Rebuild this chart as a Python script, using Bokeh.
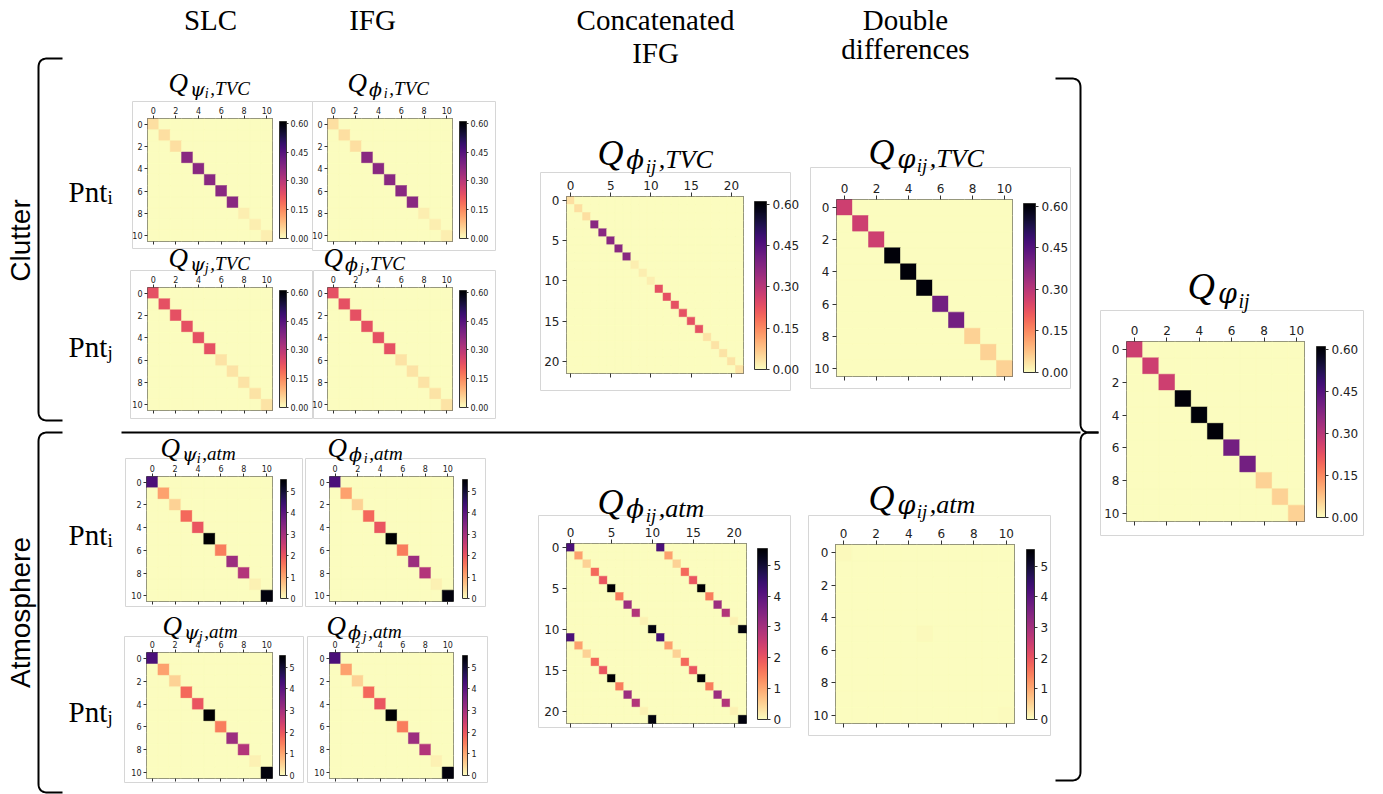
import numpy as np
from bokeh.plotting import figure
from bokeh.models import (ColumnDataSource, Range1d, LinearAxis, FixedTicker, ColorBar,
                          LinearColorMapper, PrintfTickFormatter, GridBox)
from bokeh.palettes import Magma256
from bokeh.transform import transform
from bokeh.core.properties import value
from bokeh.embed import file_html
from bokeh.resources import INLINE

PAGE_W, PAGE_H = 1383, 794

# ---------------- data (diagonal variances) ----------------
tvc_psi_i = [0.04, 0.04, 0.04, 0.37, 0.37, 0.37, 0.37, 0.37, 0.02, 0.02, 0.02]
tvc_phi_i = [0.04, 0.04, 0.04, 0.37, 0.37, 0.37, 0.37, 0.37, 0.02, 0.02, 0.02]
tvc_psi_j = [0.23, 0.23, 0.23, 0.23, 0.23, 0.23, 0.035, 0.035, 0.035, 0.035, 0.035]
tvc_phi_j = [0.23, 0.23, 0.23, 0.23, 0.23, 0.23, 0.035, 0.035, 0.035, 0.035, 0.035]
tvc_concat_diag = [0.04, 0.04, 0.04, 0.37, 0.37, 0.37, 0.37, 0.37, 0.02, 0.02, 0.02,
                   0.23, 0.23, 0.23, 0.23, 0.23, 0.23, 0.035, 0.035, 0.035, 0.035, 0.035]
tvc_dd_diag = [0.27, 0.27, 0.27, 0.60, 0.60, 0.60, 0.405, 0.405, 0.055, 0.055, 0.055]
final_diag = [0.27, 0.27, 0.27, 0.60, 0.60, 0.60, 0.405, 0.405, 0.055, 0.055, 0.055]

atm_psi_i = [4.2, 1.1, 0.5, 1.75, 2.0, 5.54, 1.5, 3.1, 2.8, 0.15, 5.4]
atm_phi_i = [4.2, 1.1, 0.5, 1.75, 2.0, 5.54, 1.5, 3.1, 2.8, 0.15, 5.4]
atm_psi_j = [4.2, 1.1, 0.5, 1.75, 2.0, 5.54, 1.5, 3.1, 2.8, 0.15, 5.4]
atm_phi_j = [4.2, 1.1, 0.5, 1.75, 2.0, 5.54, 1.5, 3.1, 2.8, 0.15, 5.4]
atm_concat_diag = [4.2, 1.1, 0.5, 1.75, 2.0, 5.54, 1.5, 3.1, 2.8, 0.15, 5.4,
                   4.2, 1.1, 0.5, 1.75, 2.0, 5.54, 1.5, 3.1, 2.8, 0.15, 5.4]
atm_concat_cross = [4.2, 1.1, 0.5, 1.75, 2.0, 5.54, 1.5, 3.1, 2.8, 0.15, 5.4]
atm_dd_diag = [0.06, 0.0, 0.0, 0.0, 0.0, 0.05, 0.0, 0.0, 0.0, 0.0, 0.04]

tvc_max = 0.61
atm_max = 5.54
tvc_cb_ticks = [0.0, 0.15, 0.30, 0.45, 0.60]
atm_cb_ticks = [0, 1, 2, 3, 4, 5]

headers = ["SLC", "IFG", "Concatenated", "IFG", "Double", "differences"]
side_labels = ["Clutter", "Atmosphere"]

PAL = list(Magma256[::-1])
ZERO = PAL[0]
DY = -9  # baseline correction for alphabetic text


def cross_matrix(diag, cross):
    m = np.diag(np.array(diag, dtype=float))
    k = len(cross)
    m = m + np.diag(np.array(cross, dtype=float), k) + np.diag(np.array(cross, dtype=float), -k)
    return m


# ---------------- background (texts, brackets, boxes) ----------------
bg = figure(width=PAGE_W, height=PAGE_H, x_range=Range1d(0, PAGE_W), y_range=Range1d(PAGE_H, 0),
            toolbar_location=None, output_backend="svg", min_border=0,
            x_axis_location=None, y_axis_location=None, outline_line_color=None,
            background_fill_color="white", border_fill_color="white")
bg.grid.visible = False
bg.title.visible = False

SERIF = value("Liberation Serif")
GREEK = value("DejaVu Serif")

boxes = dict(left=[132, 312, 130, 313, 125, 305, 124, 307, 540, 810, 1100, 538, 808],
             right=[312, 495, 312, 495, 302, 485, 303, 487, 790, 1070, 1363, 790, 1050],
             top=[101, 101, 270, 270, 458, 458, 636, 636, 172, 167, 310, 515, 515],
             bottom=[248, 250, 418, 418, 606, 606, 782, 782, 390, 388, 535, 727, 735])
bg.quad(left="left", right="right", top="top", bottom="bottom", source=ColumnDataSource(boxes),
        fill_color=None, line_color="#d6d6d6", line_width=1)

bg.text(x=[210, 372, 655, 655, 905, 905], y=[v + DY for v in [28, 28, 28, 61, 28, 57]], text=headers,
        text_font=SERIF, text_font_size="29px", text_align="center",
        text_baseline="alphabetic", text_color="black")

bg.text(x=[20, 20], y=[240, 612], text=side_labels, angle=np.pi / 2,
        text_font=value("Liberation Sans"), text_font_size="28px", text_align="center",
        text_baseline="middle", text_color="black")

pnt_y = [200, 355, 543, 720]
pnt_sub = ["i", "j", "i", "j"]
bg.text(x=[68] * 4, y=[v + DY for v in pnt_y], text=["Pnt"] * 4, text_font=SERIF,
        text_font_size="29px", text_align="left", text_baseline="alphabetic", text_color="black")
bg.text(x=[107] * 4, y=[v + 6 + DY for v in pnt_y], text=pnt_sub, text_font=SERIF,
        text_font_size="19px", text_align="left", text_baseline="alphabetic", text_color="black")


def rounded_path(pts, r):
    xs, ys = [pts[0][0]], [pts[0][1]]
    for k in range(1, len(pts) - 1):
        P, V, N = np.array(pts[k - 1], float), np.array(pts[k], float), np.array(pts[k + 1], float)
        a = V + r * (P - V) / np.linalg.norm(P - V)
        b = V + r * (N - V) / np.linalg.norm(N - V)
        t = np.linspace(0, 1, 10)
        xs += list((1 - t) ** 2 * a[0] + 2 * (1 - t) * t * V[0] + t ** 2 * b[0])
        ys += list((1 - t) ** 2 * a[1] + 2 * (1 - t) * t * V[1] + t ** 2 * b[1])
    xs.append(pts[-1][0])
    ys.append(pts[-1][1])
    return xs, ys


paths = [
    rounded_path([(62, 58), (38, 58), (38, 420), (62, 420)], 9),
    rounded_path([(62, 432), (38, 432), (38, 792), (62, 792)], 9),
    rounded_path([(1055, 78), (1080, 78), (1080, 432), (1098, 432)], 9),
    rounded_path([(1098, 432), (1080, 432), (1080, 780), (1055, 780)], 9),
    ([121, 1080], [432, 432]),
]
bg.multi_line(xs=[p[0] for p in paths], ys=[p[1] for p in paths], line_color="black", line_width=2)


def math_title(x0, yb, sym, idx, rest, S):
    yb = yb + DY * S / 30
    sym_x = x0 + 0.8 * S
    idx_x = sym_x + 0.54 * S
    rest_x = idx_x + 0.15 * S * len(idx) + 0.06 * S
    s_sub, s_idx = round(0.72 * S), round(0.52 * S)
    bg.text(x=[x0], y=[yb], text=["Q"], text_font=SERIF, text_font_style="italic",
            text_font_size=f"{S}px", text_align="left", text_baseline="alphabetic", text_color="black")
    bg.text(x=[sym_x], y=[yb + 0.2 * S], text=[sym], text_font=GREEK, text_font_style="italic",
            text_font_size=f"{s_sub}px", text_align="left", text_baseline="alphabetic",
            text_color="black")
    bg.text(x=[idx_x], y=[yb + 0.38 * S], text=[idx], text_font=SERIF, text_font_style="italic",
            text_font_size=f"{s_idx}px", text_align="left", text_baseline="alphabetic",
            text_color="black")
    if rest:
        bg.text(x=[rest_x], y=[yb + 0.2 * S], text=[rest], text_font=SERIF, text_font_style="italic",
                text_font_size=f"{s_sub}px", text_align="left", text_baseline="alphabetic",
                text_color="black")


# ---------------- matrix panels ----------------
def matrix_fig(mat, vmax, frame, cbar, small, cb_ticks, fmt):
    fx0, fy0, fx1, fy1 = frame
    cx0, cy0, cx1, cy1 = cbar
    n = mat.shape[0]
    fs = "8px" if small else "12px"
    lb = 19 if small else 27
    tb = 18 if small else 25
    bb = 12
    rb = (cx1 - fx1) + (30 if small else 42)
    W = lb + (fx1 - fx0) + rb
    H = tb + (fy1 - fy0) + bb
    p = figure(width=W, height=H, x_range=Range1d(-0.5, n - 0.5), y_range=Range1d(n - 0.5, -0.5),
               x_axis_location="above", toolbar_location=None, output_backend="svg",
               min_border_left=lb, min_border_right=rb, min_border_top=tb, min_border_bottom=bb,
               border_fill_color=None, background_fill_color=ZERO,
               outline_line_color="#4a4a4a", outline_line_width=1)
    p.grid.visible = False
    p.title.visible = False
    ii, jj = np.meshgrid(np.arange(n), np.arange(n), indexing="ij")
    src = ColumnDataSource(dict(x=jj.ravel(), y=ii.ravel(), v=mat.ravel()))
    mapper = LinearColorMapper(palette=PAL, low=0, high=vmax)
    p.rect(x="x", y="y", width=1, height=1, source=src, fill_color=transform("v", mapper),
           line_color=transform("v", mapper), line_width=0.5)
    step = 2 if n == 11 else 5
    ticks = list(range(0, n, step))
    p.add_layout(LinearAxis(), "below")
    for ax in p.axis:
        ax.ticker = FixedTicker(ticks=ticks, minor_ticks=[])
        ax.major_tick_in = 0
        ax.major_tick_out = 3 if small else 4
        ax.minor_tick_line_color = None
        ax.axis_line_color = None
        ax.major_tick_line_color = "#333333"
        ax.major_label_text_font = "DejaVu Sans"
        ax.major_label_text_font_size = fs
        ax.major_label_text_color = "#222222"
        ax.major_label_standoff = 2 if small else 3
    p.below[0].major_label_text_color = None
    p.below[0].major_label_text_font_size = "1px"
    cb = ColorBar(color_mapper=mapper, location=(cx0 - fx0, fy1 - cy1), width=cx1 - cx0,
                  height=cy1 - cy0, padding=0, margin=0,
                  ticker=FixedTicker(ticks=cb_ticks, minor_ticks=[]),
                  formatter=PrintfTickFormatter(format=fmt),
                  major_label_text_font="DejaVu Sans", major_label_text_font_size=fs,
                  major_label_text_color="#222222", major_tick_in=0,
                  major_tick_out=2 if small else 3, major_tick_line_color="#333333",
                  bar_line_color="#333333", bar_line_width=1, label_standoff=2 if small else 3,
                  background_fill_color=None, border_line_color=None, minor_tick_line_color=None)
    p.add_layout(cb)
    return p, (fy0 - tb, fx0 - lb, H, W)


panels = [
    (np.diag(tvc_psi_i), tvc_max, (147, 118, 272, 241), (279, 121, 286, 238), True, (168, 91, "ψ", "i", ",TVC", 27)),
    (np.diag(tvc_phi_i), tvc_max, (327, 118, 452, 241), (459, 121, 466, 238), True, (347, 91, "ϕ", "i", ",TVC", 27)),
    (np.diag(tvc_psi_j), tvc_max, (147, 287, 272, 410), (279, 290, 286, 407), True, (168, 266, "ψ", "j", ",TVC", 27)),
    (np.diag(tvc_phi_j), tvc_max, (327, 287, 452, 410), (459, 290, 466, 407), True, (323, 266, "ϕ", "j", ",TVC", 27)),
    (np.diag(atm_psi_i), atm_max, (146, 476, 272, 601), (280, 479, 286, 598), True, (160, 456, "ψ", "i", ",atm", 27)),
    (np.diag(atm_phi_i), atm_max, (329, 476, 453, 601), (462, 479, 467, 598), True, (327, 456, "ϕ", "i", ",atm", 27)),
    (np.diag(atm_psi_j), atm_max, (146, 652, 272, 778), (279, 655, 285, 775), True, (162, 634, "ψ", "j", ",atm", 27)),
    (np.diag(atm_phi_j), atm_max, (329, 652, 453, 778), (462, 655, 467, 775), True, (326, 634, "ϕ", "j", ",atm", 27)),
    (np.diag(tvc_concat_diag), tvc_max, (566, 196, 743, 373), (754, 201, 766, 369), False, (597, 163, "ϕ", "ij", ",TVC", 36)),
    (np.diag(tvc_dd_diag), tvc_max, (836, 199, 1012, 376), (1023, 203, 1035, 372), False, (868, 162, "φ", "ij", ",TVC", 36)),
    (np.diag(final_diag), tvc_max, (1126, 341, 1304, 521), (1316, 346, 1325, 517), False, (1187, 297, "φ", "ij", "", 38)),
    (cross_matrix(atm_concat_diag, atm_concat_cross), atm_max, (566, 543, 746, 723), (757, 548, 767, 719), False, (597, 512, "ϕ", "ij", ",atm", 36)),
    (np.diag(atm_dd_diag), atm_max, (835, 544, 1014, 723), (1026, 549, 1034, 719), False, (868, 508, "φ", "ij", ",atm", 36)),
]

children = [(bg, 0, 0, PAGE_H, PAGE_W)]
for mat, vmax, frame, cbar, small, ttl in panels:
    is_tvc = vmax == tvc_max
    fig, (r, c, h, w) = matrix_fig(mat, vmax, frame, cbar, small,
                                   tvc_cb_ticks if is_tvc else atm_cb_ticks,
                                   "%.2f" if is_tvc else "%d")
    children.append((fig, r, c, h, w))
    math_title(*ttl)

layout = GridBox(children=children, rows="1px", cols="1px")

open("out.html", "w").write(file_html(layout, INLINE))
